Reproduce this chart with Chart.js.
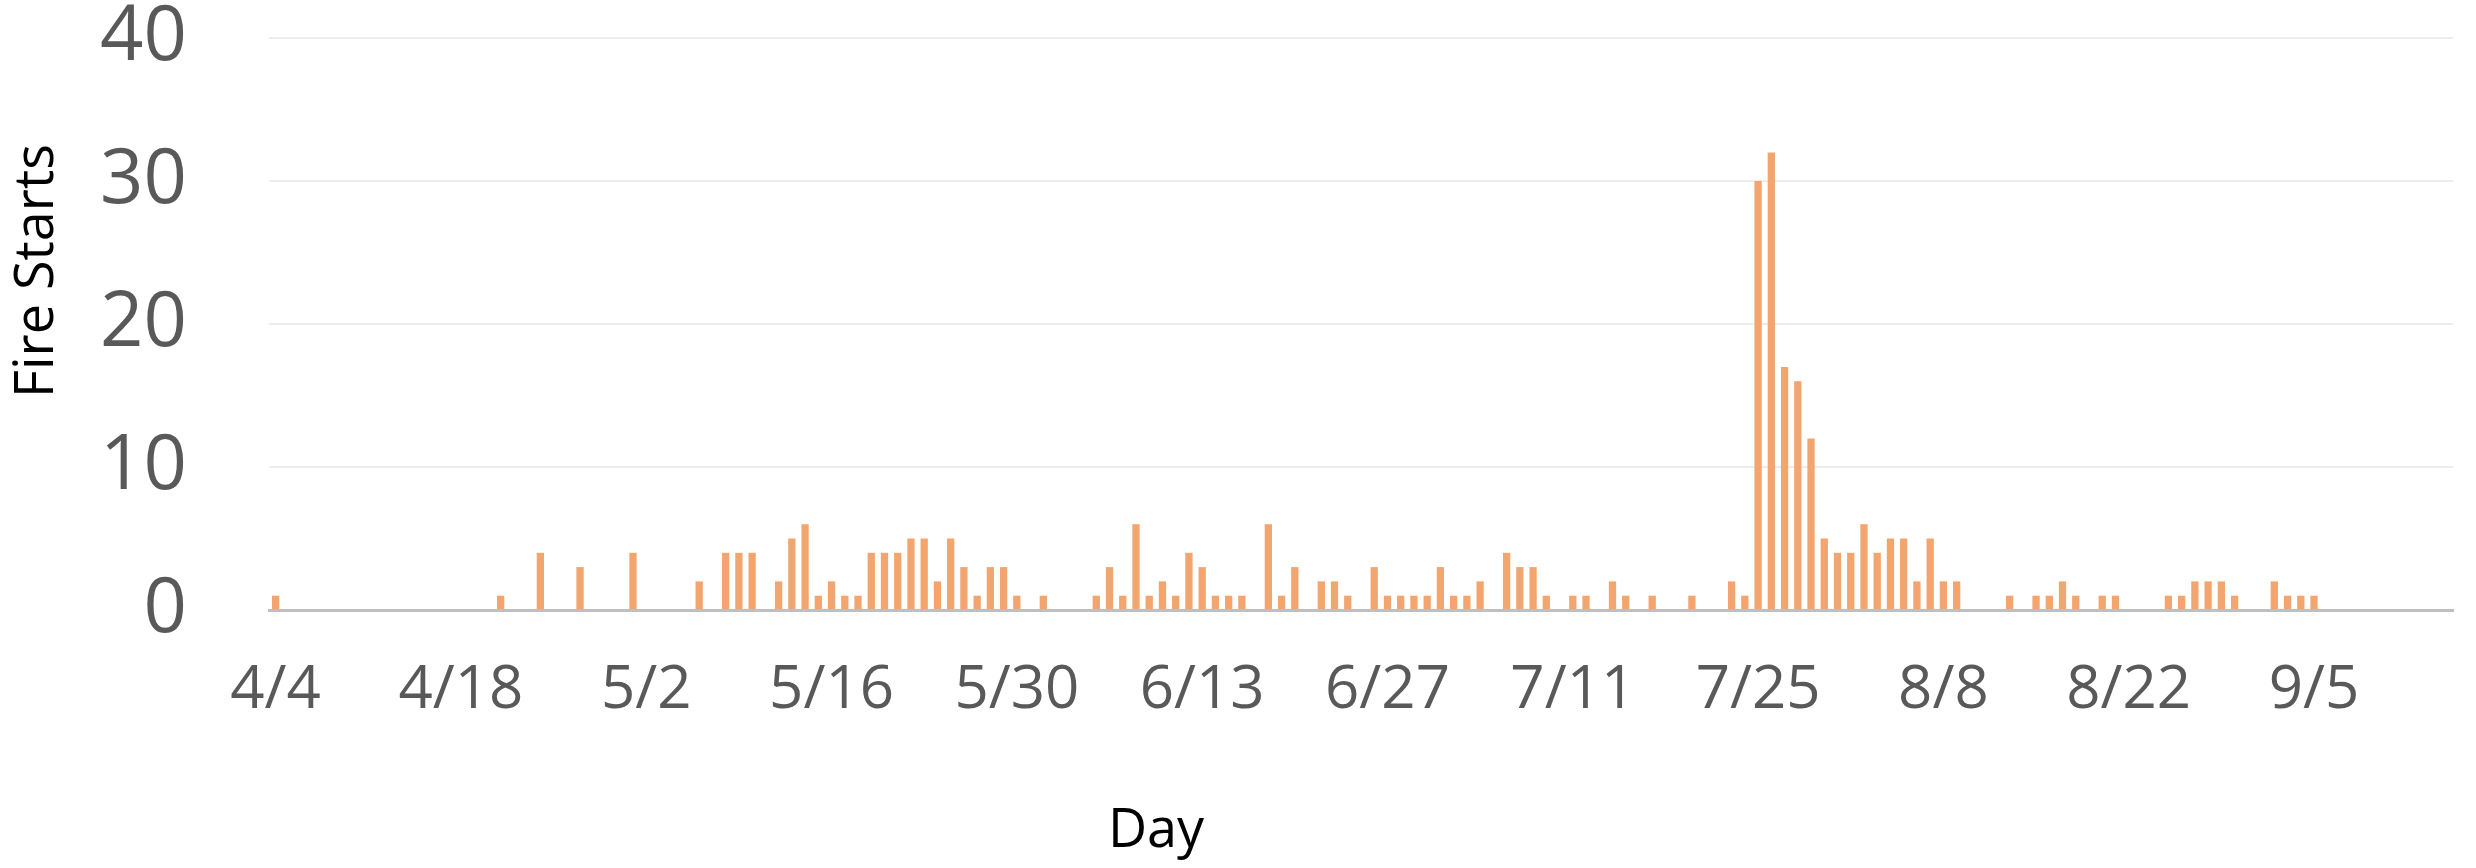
<!DOCTYPE html>
<html>
<head>
<meta charset="utf-8">
<title>Fire Starts</title>
<script src="https://cdn.jsdelivr.net/npm/chart.js@4/dist/chart.umd.min.js"></script>
<style>
    html, body { margin: 0; padding: 0; background: #ffffff; }
    #grafico { display: block; }
</style>
</head>
<body>
<canvas id="grafico" width="2476" height="868"></canvas>
<script>
// =================================================================
// DATA
// =================================================================
const startMonth = 4;   // first day is 4/4
const startDay = 4;
const dayCount = 165;   // 4/4 .. 9/15

// fire starts per day, one value per day starting at 4/4
const fireStarts = [
    1, 0, 0, 0, 0, 0, 0, 0, 0, 0,
    0, 0, 0, 0, 0, 0, 0, 1, 0, 0,
    4, 0, 0, 3, 0, 0, 0, 4, 0, 0,
    0, 0, 2, 0, 4, 4, 4, 0, 2, 5,
    6, 1, 2, 1, 1, 4, 4, 4, 5, 5,
    2, 5, 3, 1, 3, 3, 1, 0, 1, 0,
    0, 0, 1, 3, 1, 6, 1, 2, 1, 4,
    3, 1, 1, 1, 0, 6, 1, 3, 0, 2,
    2, 1, 0, 3, 1, 1, 1, 1, 3, 1,
    1, 2, 0, 4, 3, 3, 1, 0, 1, 1,
    0, 2, 1, 0, 1, 0, 0, 1, 0, 0,
    2, 1, 30, 32, 17, 16, 12, 5, 4, 4,
    6, 4, 5, 5, 2, 5, 2, 2, 0, 0,
    0, 1, 0, 1, 1, 2, 1, 0, 1, 1,
    0, 0, 0, 1, 1, 2, 2, 2, 1, 0,
    0, 2, 1, 1, 1, 0, 0, 0, 0, 0,
    0, 0, 0, 0, 0
];

// labels that are shown under the axis
const tickLabels = ['4/4', '4/18', '5/2', '5/16', '5/30', '6/13', '6/27', '7/11', '7/25', '8/8', '8/22', '9/5'];
const yTicks = [0, 10, 20, 30, 40];

const xTitle = 'Day';
const yTitle = 'Fire Starts';

// build the m/d category list day by day
const days = [];
for (let i = 0; i < dayCount; i++) {
    const d = new Date(2021, startMonth - 1, startDay + i);
    days.push(`${d.getMonth() + 1}/${d.getDate()}`);
}

// =================================================================
// Axis titles sit off-centre in the original, so they are drawn here
// =================================================================
const axisTitles = {
    id: 'axisTitles',
    afterDraw(chart) {
        const ctx = chart.ctx;
        ctx.save();
        ctx.fillStyle = '#000000';
        ctx.font = '54px "Open Sans"';
        ctx.textAlign = 'center';
        ctx.textBaseline = 'middle';
        ctx.fillText(xTitle, 1156, 832);

        ctx.translate(38, 271);
        ctx.rotate(-Math.PI / 2);
        ctx.fillText(yTitle, 0, 0);
        ctx.restore();
    }
};

// keep the plot area where the original has it
function sinPadding(scale) {
    scale.paddingTop = 0;
    scale.paddingBottom = 0;
    scale.paddingLeft = 0;
    scale.paddingRight = 0;
}

const ctx = document.getElementById('grafico');

new Chart(ctx, {
    type: 'bar',
    data: {
        labels: days,
        datasets: [{
            label: yTitle,
            data: fireStarts,
            backgroundColor: '#F2A56E',
            borderWidth: 0,
            categoryPercentage: 1.0,
            barPercentage: 0.55
        }]
    },
    options: {
        responsive: false,
        animation: false,
        layout: {
            padding: { left: 0, right: 23, top: 38, bottom: 0 }
        },
        plugins: {
            legend: { display: false },
            title: { display: false },
            tooltip: { enabled: false }
        },
        scales: {
            x: {
                grid: { display: false, drawTicks: false },
                border: { display: true, color: '#BFBFBF', width: 3 },
                ticks: {
                    autoSkip: false,
                    maxRotation: 0,
                    minRotation: 0,
                    padding: 45,
                    color: '#595959',
                    font: { family: 'Open Sans', size: 60, lineHeight: 1.2 },
                    callback: function (value) {
                        const lab = this.getLabelForValue(value);
                        return tickLabels.includes(lab) ? lab : '';
                    }
                },
                afterFit: (scale) => {
                    scale.height = 258;
                    sinPadding(scale);
                }
            },
            y: {
                min: yTicks[0],
                max: yTicks[yTicks.length - 1],
                grid: { color: '#EDEDED', lineWidth: 2, drawTicks: false },
                border: { display: false },
                ticks: {
                    stepSize: 10,
                    padding: 82,
                    color: '#595959',
                    font: { family: 'Open Sans', size: 76, lineHeight: 1.0 }
                },
                afterFit: (scale) => {
                    scale.width = 269;
                    sinPadding(scale);
                }
            }
        }
    },
    plugins: [axisTitles]
});
</script>
</body>
</html>
